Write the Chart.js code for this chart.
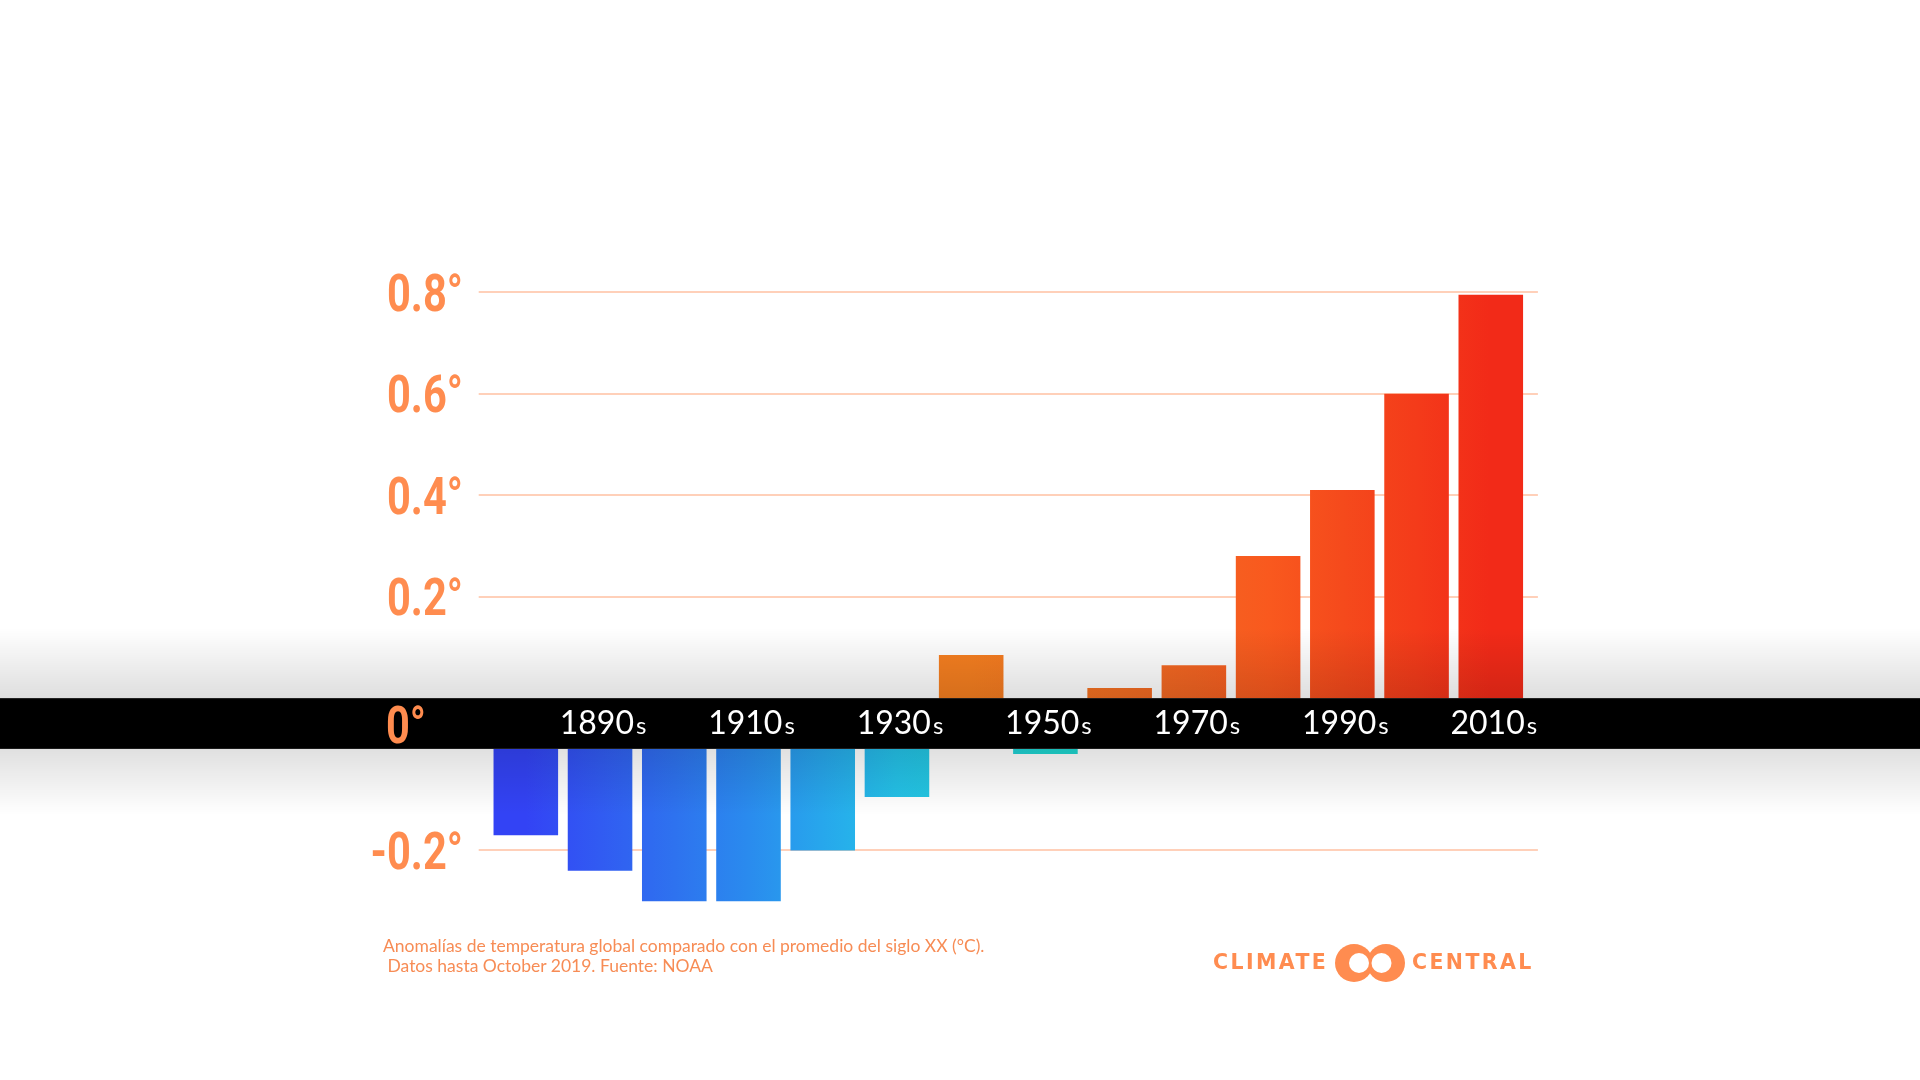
<!DOCTYPE html>
<html>
<head>
<meta charset="utf-8">
<title>Anomalías de temperatura global</title>
<script src="https://cdn.jsdelivr.net/npm/chart.js@4.4.1/dist/chart.umd.min.js"></script>
<style>
  html, body { margin: 0; padding: 0; background: #fff; }
  #wrap { position: relative; width: 1920px; height: 1080px; overflow: hidden; background: #fff; }
  #chart { position: absolute; left: 0; top: 0; }
  .note { position: absolute; left: 383px; top: 936px; font: 17.5px/20px Lato, sans-serif; color: #f78c55; white-space: pre; }
  .logo { position: absolute; top: 952px; font: bold 20.5px/21px "DejaVu Sans", sans-serif; color: #ff8c50; letter-spacing: 2.4px; }
  #rings { position: absolute; left: 1335px; top: 944px; }
</style>
</head>
<body>
<div id="wrap">
  <canvas id="chart" width="1920" height="1080"></canvas>
  <div class="note">Anomalías de temperatura global comparado con el promedio del siglo XX (°C).
 Datos hasta October 2019. Fuente: NOAA</div>
  <div class="logo" style="left:1213px">CLIMATE</div>
  <svg id="rings" width="70" height="38" viewBox="0 0 70 38">
    <circle cx="19" cy="19" r="19" fill="#ff8c50"/>
    <circle cx="51" cy="19" r="19" fill="#ff8c50"/>
    <circle cx="24" cy="19" r="10" fill="#fff"/>
    <circle cx="46.5" cy="19" r="10" fill="#fff"/>
  </svg>
  <div class="logo" style="left:1412px">CENTRAL</div>
</div>
<script>
// data (°C vs 20th century average)
const decades = ['1880s', '1890s', '1900s', '1910s', '1920s', '1930s', '1940s',
                 '1950s', '1960s', '1970s', '1980s', '1990s', '2000s', '2010s'];
const anomalies = [-0.17, -0.24, -0.30, -0.30, -0.20, -0.095, 0.085,
                   -0.01, 0.02, 0.065, 0.28, 0.41, 0.60, 0.795];
const shownDecades = ['1890s', '1910s', '1930s', '1950s', '1970s', '1990s', '2010s'];
const yTicks = [0.8, 0.6, 0.4, 0.2, -0.2];
const yTickLabels = ['0.8°', '0.6°', '0.4°', '0.2°', '-0.2°'];
const zeroLabel = '0°';

// the black band sits at zero and pushes the negative part down by 0.1
const BAND = 0.1;
const shift = v => v < 0 ? v - BAND : v;

const ORANGE = '#ff8c4f';
const TICK_FONT = 'bold 52px Roboto, sans-serif';
const SQUEEZE = 0.8;   // condensed look for the axis numbers
const coolStops = [[0, '#3343f5'], [1, '#315bf2'], [2, '#2e72ef'], [3, '#2a8bee'],
                   [4, '#27a7ec'], [5, '#24c2e8'], [7, '#1fd6d0']];
const warmStops = [[6, '#f67f20'], [8, '#f46e22'], [9, '#f36422'], [10, '#f9591e'],
                   [11, '#f54a1c'], [12, '#f43b1a'], [13, '#f22a18']];

let gradCache = {};
function gradient(chart, stops, key) {
  if (gradCache[key]) return gradCache[key];
  const xs = chart.scales.x;
  const x0 = xs.getPixelForValue(0), x1 = xs.getPixelForValue(decades.length - 1);
  const g = chart.ctx.createLinearGradient(x0, 0, x1, 0);
  stops.forEach(([i, c]) => g.addColorStop((xs.getPixelForValue(i) - x0) / (x1 - x0), c));
  gradCache[key] = g;
  return g;
}

function squeezedText(ctx, text, x, y, align) {
  ctx.save();
  ctx.translate(x, y);
  ctx.scale(SQUEEZE, 1);
  ctx.textAlign = align;
  ctx.fillText(text, 0, 0);
  ctx.restore();
}

const decor = {
  id: 'decor',
  beforeDatasetsDraw(chart) {
    const { ctx, chartArea, scales: { y } } = chart;
    ctx.save();
    ctx.strokeStyle = '#ffd0b9';
    ctx.lineWidth = 2;
    yTicks.forEach(v => {
      const py = Math.round(y.getPixelForValue(shift(v)));
      ctx.beginPath();
      ctx.moveTo(chartArea.left - 10, py);
      ctx.lineTo(chartArea.right + 10, py);
      ctx.stroke();
    });
    ctx.restore();
  },
  afterDatasetsDraw(chart) {
    const { ctx, width, scales: { x, y } } = chart;
    const top = y.getPixelForValue(0), bot = y.getPixelForValue(-BAND);
    ctx.save();

    // soft shadow around the band
    let g = ctx.createLinearGradient(0, top - 70, 0, top);
    g.addColorStop(0, 'rgba(0,0,0,0)');
    g.addColorStop(1, 'rgba(0,0,0,0.13)');
    ctx.fillStyle = g;
    ctx.fillRect(0, top - 70, width, 70);
    g = ctx.createLinearGradient(0, bot, 0, bot + 66);
    g.addColorStop(0, 'rgba(0,0,0,0.12)');
    g.addColorStop(1, 'rgba(0,0,0,0)');
    ctx.fillStyle = g;
    ctx.fillRect(0, bot, width, 66);

    ctx.fillStyle = '#000';
    ctx.fillRect(0, top, width, bot - top);

    // y labels
    ctx.font = TICK_FONT;
    ctx.fillStyle = ORANGE;
    ctx.textBaseline = 'alphabetic';
    yTicks.forEach((v, i) => {
      squeezedText(ctx, yTickLabels[i], 463, y.getPixelForValue(shift(v)) + 18.5, 'right');
    });
    const mid = (top + bot) / 2;
    squeezedText(ctx, zeroLabel, 386, mid + 19, 'left');

    // decade labels, small "s"
    ctx.fillStyle = '#fff';
    ctx.textAlign = 'left';
    shownDecades.forEach(d => {
      const cx = x.getPixelForValue(decades.indexOf(d)) + 3;
      const num = d.slice(0, -1), suf = d.slice(-1);
      ctx.font = '32px Lato, sans-serif';
      const w1 = ctx.measureText(num).width;
      ctx.font = '24px Lato, sans-serif';
      const w2 = ctx.measureText(suf).width;
      const left = cx - (w1 + 2 + w2) / 2;
      ctx.font = '32px Lato, sans-serif';
      ctx.fillText(num, left, mid + 10);
      ctx.font = '24px Lato, sans-serif';
      ctx.fillText(suf, left + w1 + 2, mid + 10);
    });
    ctx.restore();
  }
};

new Chart(document.getElementById('chart'), {
  type: 'bar',
  data: {
    labels: decades,
    datasets: [{
      data: anomalies.map(v => v < 0 ? [-BAND, v - BAND] : [0, v]),
      backgroundColor: c => {
        if (!c.chart.chartArea) return '#888';
        return anomalies[c.dataIndex] < 0
          ? gradient(c.chart, coolStops, 'cool')
          : gradient(c.chart, warmStops, 'warm');
      },
      borderWidth: 0,
      barPercentage: 0.87,
      categoryPercentage: 1.0
    }]
  },
  options: {
    responsive: false,
    devicePixelRatio: 1,
    animation: false,
    layout: { padding: { left: 488.7, right: 392.1, top: 266.8, bottom: 153.5 } },
    scales: {
      x: { display: false, offset: true },
      y: { display: false, min: -0.45, max: 0.85 }
    },
    plugins: { legend: { display: false }, tooltip: { enabled: false } }
  },
  plugins: [decor]
});
</script>
</body>
</html>
